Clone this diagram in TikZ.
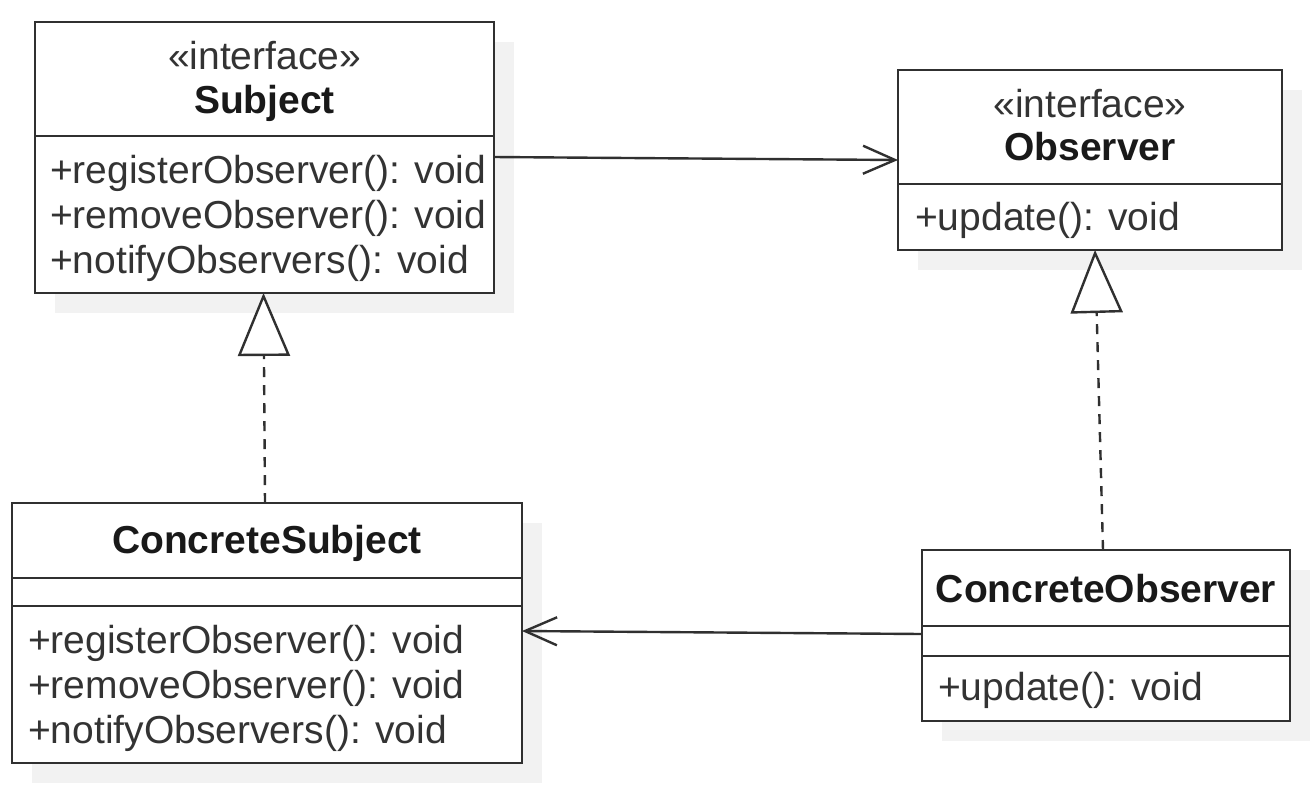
\documentclass[tikz,border=0pt]{standalone}
\usepackage{fontspec}
\setmainfont{Liberation Sans}
\usetikzlibrary{arrows.meta,calc}
\definecolor{ln}{HTML}{303030}
\definecolor{tx}{HTML}{333333}
\definecolor{shd}{HTML}{F2F2F2}
\begin{document}
\begin{tikzpicture}[x=1pt,y=-1pt,
  cls/.style={draw=ln, line width=2.6pt, fill=white, anchor=north west, inner sep=0pt, outer sep=0pt},
  sep/.style={draw=ln, line width=2.6pt},
  txt/.style={inner sep=0pt, text=tx, font=\fontsize{39}{45}\selectfont},
  ttl/.style={inner sep=0pt, text=black!90, font=\fontsize{39}{45}\selectfont\bfseries},
  assoc/.style={draw=ln, line width=2.4pt, -{Straight Barb[length=32pt,width=28pt]}},
  real/.style={draw=ln, line width=2.4pt, dash pattern=on 10pt off 8pt, -{Triangle[open, length=63pt, width=52pt, fill=white]}}]
\useasboundingbox (0,0) rectangle (1314,796);
% shadows
\fill[shd] (55,42) rectangle (514,313);
\fill[shd] (918,90) rectangle (1302,270);
\fill[shd] (32,523) rectangle (542,783);
\fill[shd] (942,570) rectangle (1310,741);
% Subject
\node[cls, minimum width=459pt, minimum height=271pt] (S) at (35,22) {};
\draw[sep] ([yshift=-114pt]S.north west) -- ([yshift=-114pt]S.north east);
\node[txt, anchor=base] (S1) at (264.5,69) {«interface»};
\node[ttl, anchor=base] (S2) at (264.5,113) {Subject};
\node[txt, anchor=base west] (S3) at (50,183) {+registerObserver(): void};
\node[txt, anchor=base west] (S4) at (50,228) {+removeObserver(): void};
\node[txt, anchor=base west] (S5) at (50,273) {+notifyObservers(): void};
% Observer
\node[cls, minimum width=384pt, minimum height=180pt] (O) at (898,70) {};
\draw[sep] ([yshift=-114pt]O.north west) -- ([yshift=-114pt]O.north east);
\node[txt, anchor=base] (O1) at (1090,117) {«interface»};
\node[ttl, anchor=base] (O2) at (1090,160) {Observer};
\node[txt, anchor=base west] (O3) at (915,230) {+update(): void};
% ConcreteSubject
\node[cls, minimum width=510pt, minimum height=260pt] (CS) at (12,503) {};
\draw[sep] ([yshift=-75pt]CS.north west) -- ([yshift=-75pt]CS.north east);
\draw[sep] ([yshift=-103pt]CS.north west) -- ([yshift=-103pt]CS.north east);
\node[ttl, anchor=base] (CS1) at (267,553) {ConcreteSubject};
\node[txt, anchor=base west] (CS2) at (28,653) {+registerObserver(): void};
\node[txt, anchor=base west] (CS3) at (28,698) {+removeObserver(): void};
\node[txt, anchor=base west] (CS4) at (28,743) {+notifyObservers(): void};
% ConcreteObserver
\node[cls, minimum width=368pt, minimum height=171pt] (CO) at (922,550) {};
\draw[sep] ([yshift=-76pt]CO.north west) -- ([yshift=-76pt]CO.north east);
\draw[sep] ([yshift=-106pt]CO.north west) -- ([yshift=-106pt]CO.north east);
\node[ttl, anchor=base] (CO1) at (1106,602) {ConcreteObserver};
\node[txt, anchor=base west] (CO2) at (938,700) {+update(): void};
% connectors
\draw[assoc] ([yshift=-135pt]S.north east) -- ([yshift=-90pt]O.north west);
\draw[assoc] ([yshift=-84pt]CO.north west) -- ([yshift=-128pt]CS.north east);
\draw[real] ([xshift=-2pt]CS.north) -- ([xshift=-1pt]S.south);
\draw[real] ([xshift=-3pt]CO.north) -- ([xshift=5pt]O.south);
\end{tikzpicture}
\end{document}
